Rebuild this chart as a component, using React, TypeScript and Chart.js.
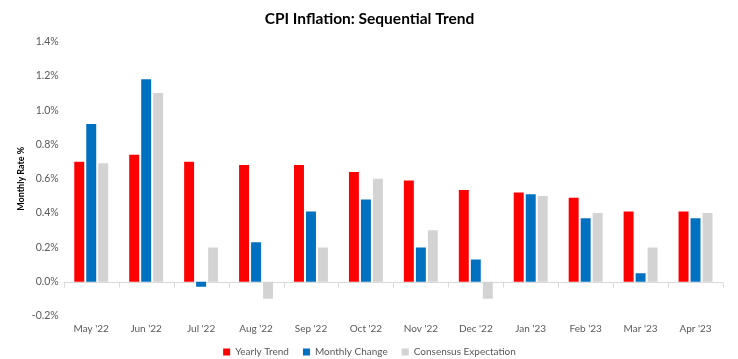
import React, { useEffect, useRef } from "react";
import { Chart, registerables } from "chart.js";

Chart.register(...registerables);

const categories = ["May '22", "Jun '22", "Jul '22", "Aug '22", "Sep '22", "Oct '22", "Nov '22", "Dec '22", "Jan '23", "Feb '23", "Mar '23", "Apr '23"];
const yearlyTrend = [0.70, 0.74, 0.70, 0.68, 0.68, 0.64, 0.59, 0.535, 0.52, 0.49, 0.41, 0.41];
const monthlyChange = [0.92, 1.18, -0.03, 0.23, 0.41, 0.48, 0.20, 0.13, 0.51, 0.37, 0.05, 0.37];
const consensus = [0.69, 1.10, 0.20, -0.10, 0.20, 0.60, 0.30, -0.10, 0.50, 0.40, 0.20, 0.40];
const yTicksMin = -0.2;
const yTicksMax = 1.4;
const yStep = 0.2;

const FONT = "Lato, 'Open Sans', sans-serif";

const zeroAxisPlugin = {
  id: "zeroAxis",
  afterLayout(chart: any) {
    const lg = chart.legend;
    if (lg) {
      lg.top -= 9;
      lg.height += 9;
    }
  },
  beforeDatasetsDraw(chart: any) {
    const { ctx, scales, chartArea } = chart;
    const x = scales.x;
    const y = scales.y;
    const y0 = Math.round(y.getPixelForValue(0)) + 0.5;
    ctx.save();
    ctx.strokeStyle = "#d9d9d9";
    ctx.lineWidth = 1;
    ctx.beginPath();
    ctx.moveTo(chartArea.left, y0);
    ctx.lineTo(chartArea.right, y0);
    const n = x.ticks.length;
    for (let i = 0; i <= n; i++) {
      const px = Math.round(x.getPixelForValue(i - 0.5)) + 0.5;
      ctx.moveTo(px, y0);
      ctx.lineTo(px, y0 + 5);
    }
    ctx.stroke();
    ctx.restore();
  },
};

export default function App() {
  const ref = useRef<HTMLCanvasElement>(null);
  useEffect(() => {
    document.body.style.margin = "0";
    const chart = new Chart(ref.current!, {
      type: "bar",
      data: {
        labels: categories,
        datasets: [
          { label: "Yearly Trend", data: yearlyTrend, backgroundColor: "#ff0000" },
          { label: "Monthly Change", data: monthlyChange, backgroundColor: "#0070c0" },
          { label: "Consensus Expectation", data: consensus, backgroundColor: "#d3d3d3" },
        ],
      },
      options: {
        animation: false,
        responsive: false,
        maintainAspectRatio: false,
        layout: { padding: { left: 16, right: 15, top: 4, bottom: -3 } },
        datasets: { bar: { categoryPercentage: 0.655, barPercentage: 0.83 } },
        plugins: {
          title: {
            display: true,
            text: "CPI Inflation: Sequential Trend",
            color: "#000000",
            font: { family: FONT, size: 15.5, weight: "bold" },
            padding: { top: 6, bottom: 13 },
          },
          legend: {
            position: "bottom",
            maxHeight: 20,
            labels: {
              boxWidth: 7,
              boxHeight: 7,
              color: "#595959",
              font: { family: FONT, size: 10 },
              padding: 14,
            },
          },
          tooltip: { enabled: false },
        },
        scales: {
          x: {
            grid: { display: false, drawTicks: false },
            border: { display: false },
            ticks: { color: "#595959", font: { family: FONT, size: 10 }, maxRotation: 0, padding: 7 },
          },
          y: {
            min: yTicksMin,
            max: yTicksMax,
            border: { display: false },
            grid: { display: false, drawTicks: false },
            ticks: {
              stepSize: yStep,
              color: "#595959",
              font: { family: FONT, size: 10.5 },
              padding: 5,
              callback: (v: any) => {
                const r = Math.round(Number(v) * 10) / 10;
                return (r === 0 ? 0 : r).toFixed(1) + "%";
              },
            },
            title: {
              display: true,
              text: "Monthly Rate %",
              color: "#000000",
              font: { family: FONT, size: 9, weight: "bold" },
              padding: { top: 0, bottom: 0 },
            },
          },
        },
      },
      plugins: [zeroAxisPlugin],
    });
    return () => chart.destroy();
  }, []);
  return (
    <div style={{ width: 738, height: 359 }}>
      <canvas ref={ref} width={738} height={359} style={{ display: "block" }} />
    </div>
  );
}
